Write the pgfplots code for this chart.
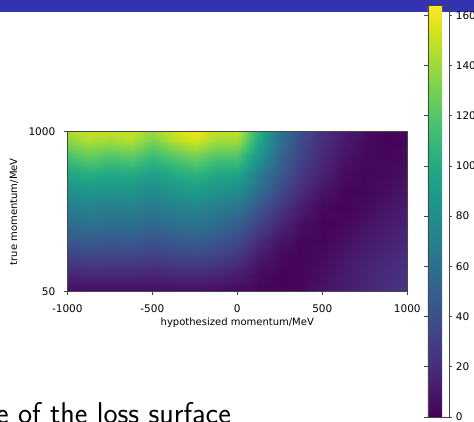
\documentclass[border=0pt]{standalone}
\usepackage{pgfplots}
\pgfplotsset{compat=1.18}
\usepackage{fontspec}
\setmainfont{DejaVu Sans}

\definecolor{slideblue}{RGB}{51,51,178}
\definecolor{spine}{RGB}{70,70,70}

\begin{document}
\begin{tikzpicture}
\useasboundingbox (0pt,0pt) rectangle (474pt,422pt);
% frame title bar of the slide
\fill[slideblue] (0pt,409.5pt) rectangle (474pt,422pt);

\begin{axis}[
  at={(67.3pt,130.3pt)}, anchor=south west,
  scale only axis, width=340pt, height=160pt,
  xmin=-1000, xmax=1000, ymin=50, ymax=1000,
  xtick={-1000,-500,0,500,1000}, xticklabels={-1000,-500,0,500,1000},
  ytick={50,1000}, yticklabels={50,1000},
  xtick pos=left, ytick pos=left,
  tick align=outside, major tick length=3.5pt,
  tick style={spine, line width=0.6pt},
  axis line style={spine, line width=0.6pt},
  tick label style={font=\fontsize{10.5}{12}\selectfont},
  xticklabel style={yshift=-6pt},
  yticklabel style={xshift=-5pt},
  label style={font=\fontsize{10.5}{12}\selectfont},
  every axis x label/.style={at={(axis description cs:0.5,-0.196)}, anchor=center},
  every axis y label/.style={at={(axis description cs:-0.157,0.5)}, rotate=90, anchor=center},
  xlabel={hypothesized momentum/MeV},
  ylabel={true momentum/MeV},
  colormap/viridis,
  point meta min=-0.2, point meta max=163.8,
  axis on top,
  colorbar,
  colorbar style={
    at={(parent axis.north east)}, anchor=north west,
    xshift=12pt, yshift=126pt,
    scale only axis, width=21pt, height=411.8pt,
    ytick={0,20,...,160},
    yticklabel pos=right,
    tick align=outside, major tick length=3.5pt,
    tick style={spine, line width=0.6pt},
    axis line style={spine, line width=0.6pt},
    yticklabel style={font=\fontsize{10.5}{12}\selectfont},
    /pgf/number format/assume math mode=true,
  },
]
\addplot[surf, shader=interp, mesh/cols=17, mesh/ordering=x varies,
  point meta=explicit] table[x=x, y=y, meta=z] {
x y z
-1000 50 5
-875 50 5
-750 50 5
-625 50 5
-500 50 5
-375 50 5
-250 50 5
-125 50 4
0 50 3
125 50 1
250 50 1
375 50 3
500 50 8
625 50 13
750 50 17
875 50 21
1000 50 26
-1000 150 17
-875 150 18
-750 150 18
-625 150 18
-500 150 16
-375 150 18
-250 150 19
-125 150 17
0 150 12
125 150 4
250 150 1
375 150 2
500 150 6
625 150 11
750 150 16
875 150 20
1000 150 24
-1000 250 30
-875 250 32
-750 250 31
-625 250 32
-500 250 29
-375 250 32
-250 250 33
-125 250 30
0 250 24
125 250 10
250 250 3
375 250 1
500 250 4
625 250 9
750 250 14
875 250 18
1000 250 21
-1000 350 44
-875 350 47
-750 350 45
-625 350 46
-500 350 42
-375 350 46
-250 350 48
-125 350 44
0 350 36
125 350 20
250 350 8
375 350 2
500 350 2
625 350 6
750 350 11
875 350 15
1000 350 18
-1000 450 57
-875 450 61
-750 450 59
-625 450 60
-500 450 55
-375 450 60
-250 450 62
-125 450 58
0 450 50
125 450 32
250 450 17
375 450 6
500 450 1
625 450 3
750 450 7
875 450 11
1000 450 15
-1000 550 68
-875 550 73
-750 550 70
-625 550 72
-500 550 66
-375 550 72
-250 550 75
-125 550 70
0 550 64
125 550 44
250 550 26
375 550 12
500 550 3
625 550 1
750 550 4
875 550 8
1000 550 12
-1000 650 82
-875 650 87
-750 650 84
-625 650 86
-500 650 79
-375 650 86
-250 650 90
-125 650 84
0 650 80
125 650 58
250 650 36
375 650 20
500 650 8
625 650 2
750 650 2
875 650 5
1000 650 9
-1000 750 96
-875 750 102
-750 750 98
-625 750 100
-500 750 92
-375 750 100
-250 750 106
-125 750 98
0 750 96
125 750 70
250 750 45
375 750 27
500 750 14
625 750 5
750 750 2
875 750 3
1000 750 6
-1000 850 115
-875 850 124
-750 850 118
-625 850 122
-500 850 110
-375 850 120
-250 850 128
-125 850 118
0 850 118
125 850 84
250 850 52
375 850 32
500 850 18
625 850 8
750 850 3
875 850 2
1000 850 4
-1000 950 136
-875 950 145
-750 950 142
-625 950 146
-500 950 132
-375 950 146
-250 950 154
-125 950 142
0 950 142
125 950 98
250 950 60
375 950 36
500 950 21
625 950 11
750 950 4
875 950 1
1000 950 2
-1000 1000 142
-875 1000 150
-750 1000 148
-625 1000 150
-500 1000 138
-375 1000 152
-250 1000 160
-125 1000 148
0 1000 150
125 1000 102
250 1000 62
375 1000 38
500 1000 22
625 1000 12
750 1000 5
875 1000 2
1000 1000 2
};
\end{axis}

% slide body text, cut off by the screenshot
\node[anchor=base east, inner sep=0pt, font=\sffamily\fontsize{30}{34}\selectfont]
  at (231pt,-2pt) {e of the loss surface};
\end{tikzpicture}
\end{document}
